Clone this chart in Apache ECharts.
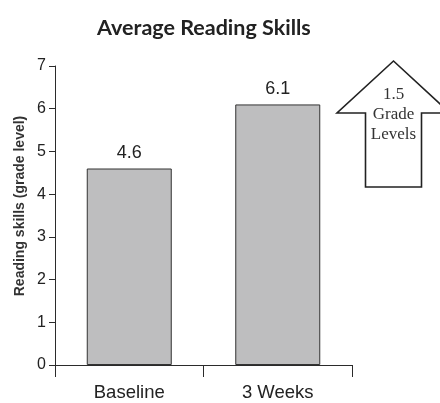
<!DOCTYPE html>
<html>
<head>
<meta charset="utf-8">
<script src="https://cdn.jsdelivr.net/npm/echarts@6/dist/echarts.min.js"></script>
<style>
  html, body { margin: 0; padding: 0; background: #fff; }
  #chart { width: 440px; height: 403px; }
</style>
</head>
<body>
<div id="chart"></div>
<script>
// Average reading level before and after three weeks
const categories = ['Baseline', '3 Weeks'];
const readingLevels = [4.6, 6.1];
const yTicks = [0, 1, 2, 3, 4, 5, 6, 7];
const gainLines = ['1.5', 'Grade', 'Levels'];

const chart = echarts.init(document.getElementById('chart'), null, { renderer: 'canvas' });

const ink = '#2b2b2b';

chart.setOption({
  animation: false,
  backgroundColor: '#ffffff',
  title: {
    text: 'Average Reading Skills',
    left: 92,
    top: 12,
    textStyle: {
      fontFamily: 'Lato',
      fontWeight: 'bold',
      fontSize: 21.5,
      color: '#222'
    }
  },
  grid: { left: 55, right: 88, top: 66, bottom: 38, containLabel: false },
  xAxis: {
    type: 'category',
    data: categories,
    boundaryGap: true,
    axisLine: { lineStyle: { color: ink, width: 1 } },
    axisTick: { show: true, length: 12, lineStyle: { color: ink } },
    axisLabel: { color: '#222', fontSize: 18.5, fontFamily: 'Liberation Sans', margin: 18 }
  },
  yAxis: {
    type: 'value',
    min: yTicks[0],
    max: yTicks[yTicks.length - 1],
    interval: 1,
    splitLine: { show: false },
    axisLine: { show: true, lineStyle: { color: ink, width: 1 } },
    axisTick: { show: true, length: 6, lineStyle: { color: ink } },
    axisLabel: { color: '#222', fontSize: 16, fontFamily: 'Liberation Sans', margin: 9 }
  },
  series: [{
    type: 'bar',
    data: readingLevels,
    barWidth: 85,
    itemStyle: { color: '#bebebf', borderColor: '#333', borderWidth: 1 },
    label: {
      show: true,
      position: 'top',
      distance: 6,
      color: '#222',
      fontSize: 18,
      fontFamily: 'Liberation Sans',
      formatter: p => p.value.toFixed(1)
    }
  }],
  graphic: [
    {
      type: 'text',
      x: 20,
      y: 206,
      rotation: Math.PI / 2,
      style: {
        text: 'Reading skills (grade level)',
        fontFamily: 'Liberation Sans',
        fontWeight: 'bold',
        fontSize: 14,
        fill: '#333',
        textAlign: 'center',
        textVerticalAlign: 'middle'
      }
    },
    {
      // up arrow showing the gain
      type: 'polygon',
      shape: {
        points: [
          [393.5, 61], [450, 113], [421.5, 113], [421.5, 187],
          [365.5, 187], [365.5, 113], [337, 113]
        ]
      },
      style: { fill: '#fff', stroke: '#222', lineWidth: 1.6 }
    },
    {
      type: 'text',
      x: 393.5,
      y: 85,
      style: {
        text: gainLines.join('\n'),
        fontFamily: 'Liberation Serif',
        fontSize: 17,
        lineHeight: 20,
        fill: '#333',
        textAlign: 'center',
        textVerticalAlign: 'top'
      }
    }
  ]
});
</script>
</body>
</html>
